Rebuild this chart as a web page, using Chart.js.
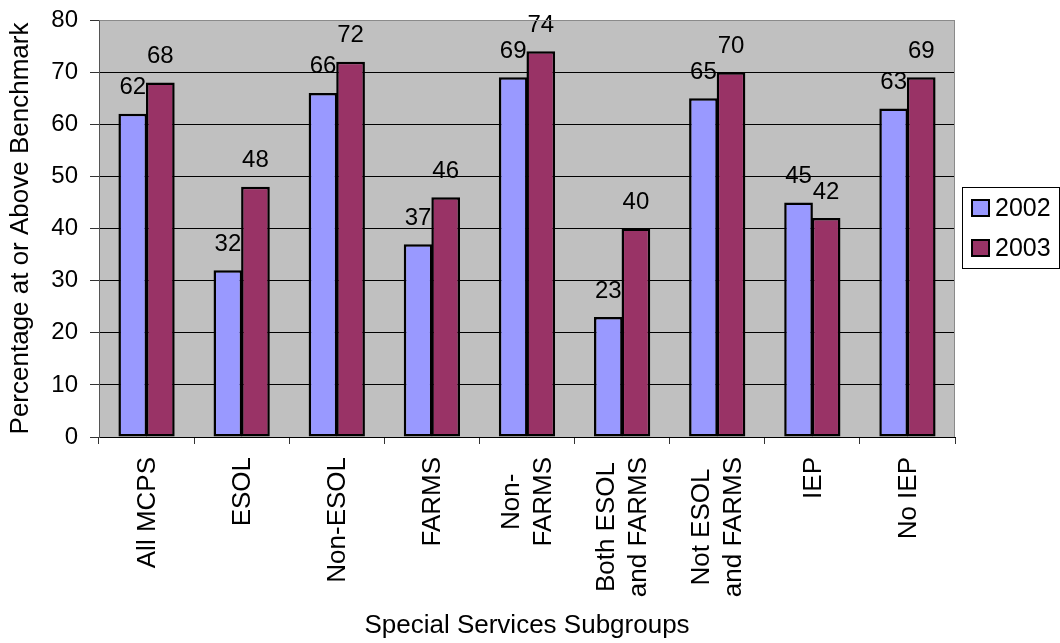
<!DOCTYPE html>
<html>
<head>
<meta charset="utf-8">
<script src="https://cdn.jsdelivr.net/npm/chart.js@4/dist/chart.umd.min.js"></script>
<style>
  html, body { margin: 0; padding: 0; background: #ffffff; }
  canvas { display: block; }
</style>
</head>
<body>
<canvas id="chart" width="1060" height="643"></canvas>
<script>
// Subgroup names (each entry is the list of lines shown under the axis)
const categories = [
  ['All MCPS'],
  ['ESOL'],
  ['Non-ESOL'],
  ['FARMS'],
  ['Non-', 'FARMS'],
  ['Both ESOL', 'and FARMS'],
  ['Not ESOL', 'and FARMS'],
  ['IEP'],
  ['No IEP']
];
const seriesNames = ['2002', '2003'];
const values2002 = [62, 32, 66, 37, 69, 23, 65, 45, 63];
const values2003 = [68, 48, 72, 46, 74, 40, 70, 42, 69];
const yMin = 0;
const yMax = 80;
const yStep = 10;

const FONT = "'Liberation Sans', Arial, Helvetica, sans-serif";
const COLORS = ['#9999FF', '#993366'];

// Gray plot background plus the thin gray frame on top/right
const plotFrame = {
  id: 'plotFrame',
  beforeDraw(chart) {
    const { ctx, chartArea: a } = chart;
    ctx.save();
    ctx.fillStyle = '#C0C0C0';
    ctx.fillRect(a.left, a.top, a.right - a.left, a.bottom - a.top);
    ctx.restore();
  },
  afterDraw(chart) {
    const { ctx, chartArea: a } = chart;
    ctx.save();
    ctx.strokeStyle = '#8a8a8a';
    ctx.lineWidth = 1;
    ctx.beginPath();
    ctx.moveTo(Math.round(a.left) + 0.5, Math.round(a.top) + 0.5);
    ctx.lineTo(Math.round(a.right) - 0.5, Math.round(a.top) + 0.5);
    ctx.lineTo(Math.round(a.right) - 0.5, Math.round(a.bottom));
    ctx.stroke();
    ctx.restore();
  }
};

// Value labels above every bar
const valueLabels = {
  id: 'valueLabels',
  afterDatasetsDraw(chart) {
    const { ctx } = chart;
    ctx.save();
    ctx.font = '24px ' + FONT;
    ctx.fillStyle = '#000';
    ctx.textAlign = 'center';
    ctx.textBaseline = 'alphabetic';
    chart.data.datasets.forEach((ds, di) => {
      const meta = chart.getDatasetMeta(di);
      meta.data.forEach((bar, i) => {
        ctx.fillText(String(ds.data[i]), bar.x, bar.y - 19.5);
      });
    });
    ctx.restore();
  }
};

// Vertical category names, lines centred on each other
const categoryText = {
  id: 'categoryText',
  afterDraw(chart) {
    const { ctx } = chart;
    const xs = chart.scales.x;
    const lineH = 32;
    const topY = chart.chartArea.bottom + 20;
    ctx.save();
    ctx.font = '26px ' + FONT;
    ctx.fillStyle = '#000';
    ctx.textAlign = 'center';
    ctx.textBaseline = 'middle';
    chart.data.labels.forEach((lines, i) => {
      const x = xs.getPixelForValue(i);
      const w = Math.max(...lines.map(l => ctx.measureText(l).width));
      ctx.save();
      ctx.translate(x, topY + w / 2);
      ctx.rotate(-Math.PI / 2);
      lines.forEach((line, j) => {
        ctx.fillText(line, 0, (j - (lines.length - 1) / 2) * lineH + 1);
      });
      ctx.restore();
    });
    ctx.restore();
  }
};

// Boxed legend at the right
const boxedLegend = {
  id: 'boxedLegend',
  afterDraw(chart) {
    const { ctx } = chart;
    const box = { x: 962.5, y: 187.5, w: 97, h: 81 };
    ctx.save();
    ctx.strokeStyle = '#000';
    ctx.lineWidth = 1;
    ctx.strokeRect(box.x, box.y, box.w, box.h);
    ctx.font = '25px ' + FONT;
    ctx.textAlign = 'left';
    ctx.textBaseline = 'middle';
    chart.data.datasets.forEach((ds, i) => {
      const cy = 208 + i * 40;
      ctx.fillStyle = ds.backgroundColor;
      ctx.fillRect(972, cy - 8, 17, 16);
      ctx.strokeStyle = '#000';
      ctx.lineWidth = 2;
      ctx.strokeRect(972, cy - 8, 17, 16);
      ctx.fillStyle = '#000';
      ctx.fillText(ds.label, 995, cy + 1);
    });
    ctx.restore();
  }
};

new Chart(document.getElementById('chart'), {
  type: 'bar',
  data: {
    labels: categories,
    datasets: [
      {
        label: seriesNames[0],
        data: values2002,
        backgroundColor: COLORS[0],
        borderColor: '#000',
        borderWidth: 2.5,
        borderSkipped: false
      },
      {
        label: seriesNames[1],
        data: values2003,
        backgroundColor: COLORS[1],
        borderColor: '#000',
        borderWidth: 2.5,
        borderSkipped: false
      }
    ]
  },
  options: {
    responsive: false,
    animation: false,
    devicePixelRatio: 1,
    categoryPercentage: 0.58,
    barPercentage: 1.04,
    layout: { padding: { left: 5, right: 105, top: 20, bottom: 0 } },
    plugins: {
      legend: { display: false },
      tooltip: { enabled: false }
    },
    scales: {
      x: {
        afterFit(scale) { scale.height = 206; },
        ticks: { display: false },
        grid: {
          display: true,
          drawOnChartArea: false,
          drawTicks: true,
          tickLength: 7,
          color: '#333',
          tickColor: '#333',
          offset: true
        },
        border: { display: true, color: '#000', width: 1 },
        title: {
          display: true,
          text: 'Special Services Subgroups',
          color: '#000',
          font: { family: FONT, size: 26 },
          padding: { top: 0, bottom: 2 }
        }
      },
      y: {
        min: yMin,
        max: yMax,
        afterFit(scale) {
          scale.width = 94;
          scale.paddingTop = 0;
          scale.paddingBottom = 0;
        },
        ticks: {
          stepSize: yStep,
          color: '#000',
          padding: 12,
          font: { family: FONT, size: 24 }
        },
        grid: {
          color: ctx => (ctx.tick && ctx.tick.value === yMax) ? '#8a8a8a' : '#000',
          tickColor: '#333',
          lineWidth: 1,
          tickLength: 9,
          drawTicks: true
        },
        border: { display: true, color: '#555', width: 1 },
        title: {
          display: true,
          text: 'Percentage at or Above Benchmark',
          color: '#000',
          font: { family: FONT, size: 26 },
          padding: { top: 0, bottom: 0 }
        }
      }
    }
  },
  plugins: [plotFrame, valueLabels, categoryText, boxedLegend]
});
</script>
</body>
</html>
